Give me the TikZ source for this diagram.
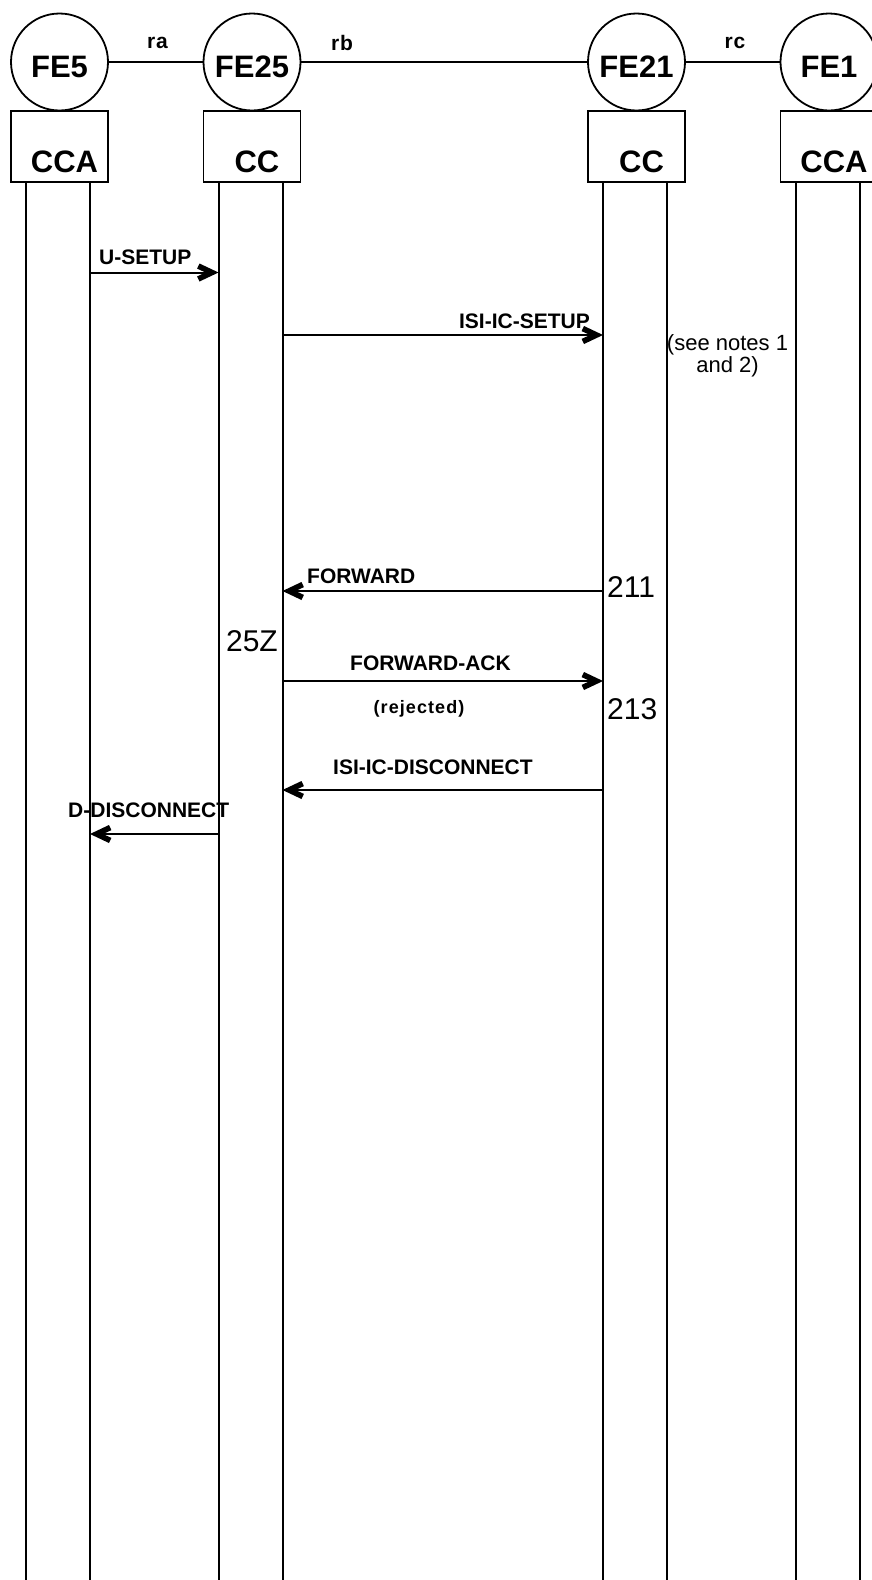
\documentclass[tikz,border=0pt]{standalone}
\usepackage{fontspec}
\setmainfont{Liberation Sans}
\usetikzlibrary{arrows.meta}
\pgfdeclarearrow{
  name = Chev,
  setup code = {
    \pgfarrowssettipend{0pt}
    \pgfarrowssetlineend{-10pt}
    \pgfarrowssetbackend{-21pt}
    \pgfarrowshullpoint{0pt}{0pt}
    \pgfarrowshullpoint{-21pt}{9.5pt}
    \pgfarrowshullpoint{-21pt}{-9.5pt}
  },
  drawing code = {
    \pgfpathmoveto{\pgfpoint{0pt}{0pt}}
    \pgfpathlineto{\pgfpoint{-19pt}{9pt}}
    \pgfpathlineto{\pgfpoint{-21.4pt}{3.9pt}}
    \pgfpathlineto{\pgfpoint{-13pt}{0pt}}
    \pgfpathlineto{\pgfpoint{-21.4pt}{-3.9pt}}
    \pgfpathlineto{\pgfpoint{-19pt}{-9pt}}
    \pgfpathclose
    \pgfusepathqfill
  }
}
\begin{document}
\begin{tikzpicture}[x=1pt,y=-1pt,
  every node/.style={inner sep=0pt},
  fe/.style={circle, draw, line width=1.8pt, minimum size=97pt,
    font=\fontsize{31}{31}\selectfont\bfseries, text height=30pt, text depth=0pt},
  fb/.style={rectangle, draw, line width=1.8pt, minimum width=97pt, minimum height=71pt},
  boxtxt/.style={font=\fontsize{31}{31}\selectfont\bfseries, xshift=5pt, yshift=-16pt},
  life/.style={line width=2pt},
  link/.style={line width=1.6pt},
  msg/.style={line width=2pt, arrows={-Chev}},
  lbl/.style={font=\fontsize{21}{21}\selectfont\bfseries},
  rlbl/.style={font=\fontsize{21}{21}\selectfont\bfseries\addfontfeatures{LetterSpace=4}},
  num/.style={font=\fontsize{30}{30}\selectfont},
  note/.style={font=\fontsize{22}{22}\selectfont, align=center},
  rej/.style={font=\fontsize{18}{18}\selectfont\bfseries\addfontfeatures{LetterSpace=6}}
]
\useasboundingbox (0,0) rectangle (872,1580);
\clip (0,0) rectangle (872,1580);

% functional entities
\node[fe] (fe5)  at (59.5,62) {FE5};
\node[fe] (fe25) at (252,62) {FE25};
\node[fe] (fe21) at (636.5,62) {FE21};
\node[fe] (fe1)  at (829,62) {FE1};

\draw[link] (fe5) -- (fe25);
\draw[link] (fe25) -- (fe21);
\draw[link] (fe21) -- (fe1);
\node[rlbl] (ra) at (157.5,42.5) {ra};
\node[rlbl] (rb) at (342,42.5) {rb};
\node[rlbl] (rc) at (735,42.5) {rc};

% boxes
\node[fb, label={[boxtxt]center:CCA}] (b5)  at (59.5,146.2) {};
\node[fb, label={[boxtxt]center:CC}]  (b25) at (252,146.2) {};
\node[fb, label={[boxtxt]center:CC}]  (b21) at (636.5,146.2) {};
\node[fb, label={[boxtxt]center:CCA}] (b1)  at (829,146.2) {};

% lifelines
\foreach \n/\x in {l5a/26, l5b/90, l25a/218.5, l25b/282.5, l21a/603, l21b/667, l1a/796, l1b/860}{
  \coordinate (\n t) at (\x,181.6);
  \coordinate (\n e) at (\x,1582);
  \draw[life] (\n t) -- (\n e);
}

% messages
\coordinate (m1s) at (90,272.5);   \coordinate (m1e) at (218.5,272.5);
\draw[msg] (m1s) -- (m1e);
\node[lbl, anchor=west] (m1l) at (99,257.5) {U-SETUP};

\coordinate (m2s) at (282.5,335); \coordinate (m2e) at (603,335);
\draw[msg] (m2s) -- (m2e);
\node[lbl, anchor=east] (m2l) at (590,321) {ISI-IC-SETUP};
\node[note] (notes) at (727.5,356) {(see notes 1\\and 2)};

\coordinate (m3s) at (603,591); \coordinate (m3e) at (282.5,591);
\draw[msg] (m3s) -- (m3e);
\node[lbl, anchor=west] (m3l) at (307,576) {FORWARD};
\node[num, anchor=west] (n211) at (607,587) {211};
\node[num, anchor=east] (n25z) at (278,641) {25Z};

\coordinate (m4s) at (282.5,681); \coordinate (m4e) at (603,681);
\draw[msg] (m4s) -- (m4e);
\node[lbl, anchor=west] (m4l) at (350,663) {FORWARD-ACK};
\node[rej] (m4r) at (419,709) {(rejected)};
\node[num, anchor=west] (n213) at (607,709) {213};

\coordinate (m5s) at (603,790); \coordinate (m5e) at (282.5,790);
\draw[msg] (m5s) -- (m5e);
\node[lbl, anchor=west] (m5l) at (333,767) {ISI-IC-DISCONNECT};

\coordinate (m6s) at (218.5,834); \coordinate (m6e) at (90,834);
\draw[msg] (m6s) -- (m6e);
\node[lbl, anchor=west] (m6l) at (68,810.5) {D-DISCONNECT};
\end{tikzpicture}
\end{document}
